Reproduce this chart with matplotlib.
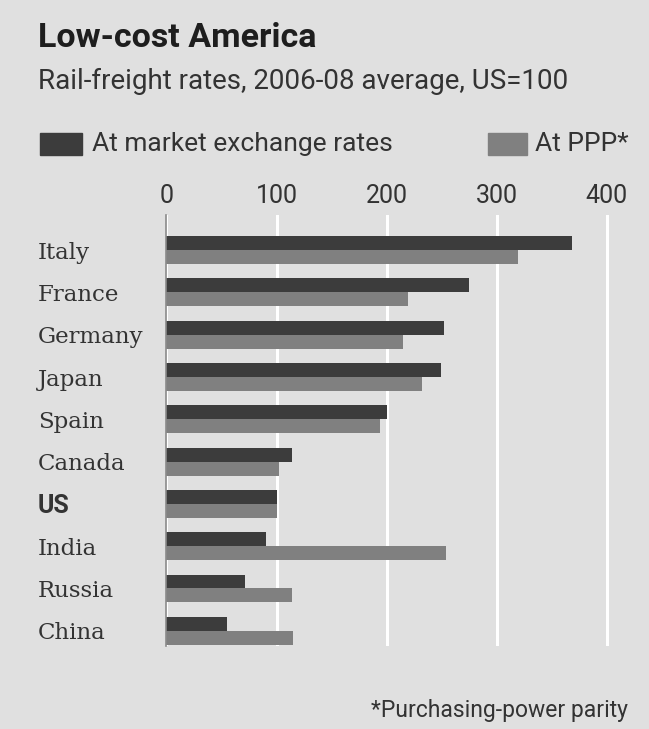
import numpy as np
import matplotlib
matplotlib.use("Agg")
import matplotlib.pyplot as plt
from matplotlib.patches import Rectangle

# rail-freight rates, 2006-08 average, US=100
countries = ["Italy", "France", "Germany", "Japan", "Spain",
             "Canada", "US", "India", "Russia", "China"]
market_rates = [368, 275, 252, 249, 200, 114, 100, 90, 71, 55]
ppp_rates = [319, 219, 215, 232, 194, 102, 100, 254, 114, 115]
ticks = [0, 100, 200, 300, 400]

bg = "#e0e0e0"
dark = "#3c3c3c"
grey = "#808080"
sans = "Roboto"
serif = "DejaVu Serif"

fig = plt.figure(figsize=(6.49, 7.29), dpi=100, facecolor=bg)
ax = fig.add_axes([0.2565, 0.1139, 0.969 - 0.2565, 0.705 - 0.1139])
ax.set_facecolor(bg)

y = np.arange(len(countries))
h = 0.33
ax.barh(y - h / 2, market_rates, height=h, color=dark, zorder=3)
ax.barh(y + h / 2, ppp_rates, height=h, color=grey, zorder=3)

ax.set_xlim(0, 420)
ax.set_ylim(9.36, -0.83)
ax.set_xticks(ticks)
ax.xaxis.tick_top()
ax.tick_params(axis="x", length=0, pad=5, labelsize=18, labelcolor="#333333")
for lbl in ax.get_xticklabels():
    lbl.set_family(sans)
ax.grid(axis="x", color="white", linewidth=2.2, zorder=1)

ax.set_yticks(y)
ax.set_yticklabels(countries)
ax.tick_params(axis="y", length=0, pad=0)
for lbl in ax.get_yticklabels():
    lbl.set_family(serif)
    lbl.set_fontsize(16.5)
    lbl.set_color("#333333")
    lbl.set_horizontalalignment("left")
    if lbl.get_text() == "US":
        lbl.set_fontweight("bold")
        lbl.set_family(sans)
        lbl.set_fontsize(18)
ax.yaxis.set_tick_params(pad=(166.5 - 38) * 72 / 100)

for s in ["top", "right", "bottom"]:
    ax.spines[s].set_visible(False)
ax.spines["left"].set_color("#8a8a8a")
ax.spines["left"].set_linewidth(1.2)
ax.spines["left"].set_zorder(4)

# titles
fig.text(38 / 649, 1 - 38 / 729, "Low-cost America", family=sans,
         fontsize=24.5, fontweight="bold", color="#1e1e1e", va="center")
fig.text(38 / 649, 1 - 81 / 729, "Rail-freight rates, 2006-08 average, US=100",
         family=sans, fontsize=20, color="#333333", va="center")

# legend
fig.patches.append(Rectangle((40 / 649, 1 - 155 / 729), 42 / 649, 22 / 729,
                             transform=fig.transFigure, color=dark))
fig.text(92 / 649, 1 - 144 / 729, "At market exchange rates", family=sans,
         fontsize=19, color="#333333", va="center")
fig.patches.append(Rectangle((488 / 649, 1 - 155 / 729), 39 / 649, 22 / 729,
                             transform=fig.transFigure, color=grey))
fig.text(535 / 649, 1 - 144 / 729, "At PPP*", family=sans,
         fontsize=19, color="#333333", va="center")

fig.text(628 / 649, 1 - 710 / 729, "*Purchasing-power parity", family=sans,
         fontsize=16.5, color="#333333", va="center", ha="right")

fig.savefig("out.png", dpi=100, facecolor=bg)
